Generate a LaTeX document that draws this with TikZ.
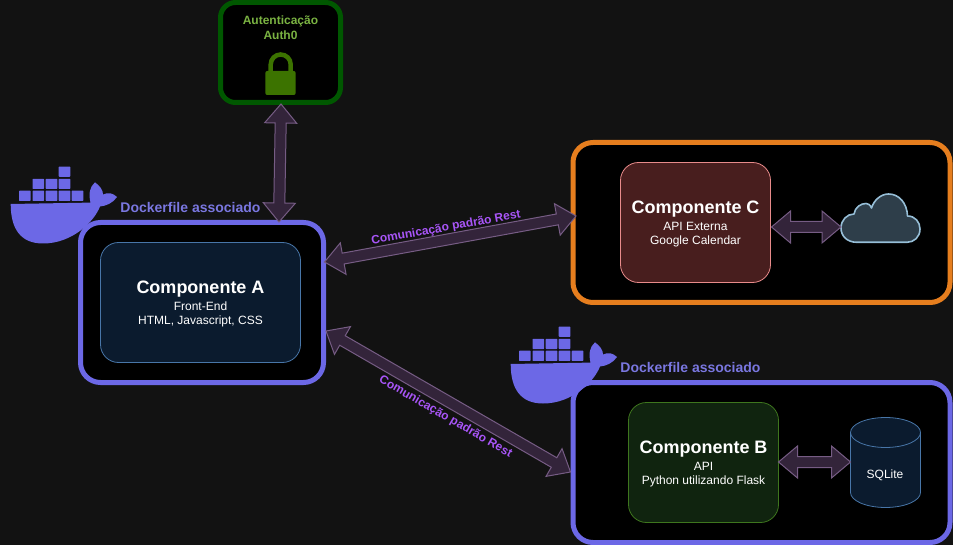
\documentclass[tikz,border=0pt]{standalone}
\usepackage{fontspec}
\setmainfont{Liberation Sans}
\usetikzlibrary{calc}
\definecolor{bgc}{RGB}{18,18,18}
\definecolor{dockc}{RGB}{108,104,230}
\definecolor{dockt}{RGB}{122,119,224}
\definecolor{orangec}{RGB}{230,126,30}
\definecolor{authc}{RGB}{0,87,0}
\definecolor{lockc}{RGB}{60,115,0}
\definecolor{autht}{RGB}{122,178,66}
\definecolor{blufill}{RGB}{11,27,46}
\definecolor{blustk}{RGB}{72,118,168}
\definecolor{redfill}{RGB}{72,30,30}
\definecolor{redstk}{RGB}{232,139,139}
\definecolor{grnfill}{RGB}{16,36,15}
\definecolor{grnstk}{RGB}{62,118,30}
\definecolor{arrfill}{RGB}{51,36,58}
\definecolor{arrstk}{RGB}{118,92,132}
\definecolor{restc}{RGB}{168,85,247}
\definecolor{cloudf}{RGB}{46,62,74}
\definecolor{clouds}{RGB}{150,190,215}
\tikzset{
  x=1pt,y=-1pt,
  outerbox/.style={draw,line width=5pt,fill=black,rounded corners=20pt,inner sep=0pt,outer sep=0pt},
  innerbox/.style={draw,line width=0.8pt,rounded corners=18pt,inner sep=0pt,outer sep=0pt,align=center,text=white,
    font=\fontsize{12}{14}\selectfont},
  bigarrow/.style={draw=arrstk,fill=arrfill,line width=1pt,line join=miter},
  restlabel/.style={text=restc,font=\fontsize{12}{14}\bfseries\selectfont,inner sep=0pt},
  docklabel/.style={text=dockt,font=\fontsize{14}{16}\bfseries\selectfont,inner sep=0pt},
}
\newcommand{\compt}[1]{\rule{0pt}{16pt}{\fontsize{18}{21}\bfseries\selectfont #1}}
\newcommand{\dblarrow}[2]{%
  \draw[bigarrow] (#1)
  -- ($(#1)!19pt!(#2)!16pt!90:(#2)$)
  -- ($(#1)!19pt!(#2)!5.5pt!90:(#2)$)
  -- ($(#2)!19pt!(#1)!5.5pt!-90:(#1)$)
  -- ($(#2)!19pt!(#1)!16pt!-90:(#1)$)
  -- (#2)
  -- ($(#2)!19pt!(#1)!16pt!90:(#1)$)
  -- ($(#2)!19pt!(#1)!5.5pt!90:(#1)$)
  -- ($(#1)!19pt!(#2)!5.5pt!-90:(#2)$)
  -- ($(#1)!19pt!(#2)!16pt!-90:(#2)$)
  -- cycle;}
\newcommand{\whale}[2]{%
  \begin{scope}[shift={(#1,#2)},fill=dockc]
    \foreach \xa/\ya in {19/190.7,32.5/190.7,45.7/190.7,58.7/190.7,71.7/190.7,32.5/178.8,45.7/178.8,58.7/178.8,58.7/166.6}
      \fill[rounded corners=0.6pt] (\xa,\ya) rectangle ++(11.6,10.2);
    \fill (10.7,204) -- (90.5,202.6)
      .. controls (88.5,194) and (89.5,187) .. (95,182.3)
      .. controls (100,186) and (103,190) .. (103,194.5)
      .. controls (108,192) and (113,193) .. (117,197)
      .. controls (113,203) and (106,206) .. (100,206.5)
      .. controls (94,222) and (72,243.5) .. (43,243.5)
      .. controls (20,243.5) and (10.7,228) .. (10.7,204) -- cycle;
  \end{scope}}
\begin{document}
\begin{tikzpicture}
\useasboundingbox (0,0) rectangle (953,545);
\fill[bgc] (0,0) rectangle (953,545);

% outer boxes
\node[outerbox,draw=authc,rounded corners=15pt,minimum width=120pt,minimum height=100pt] (auth) at (280.5,52.5) {};
\node[outerbox,draw=dockc,minimum width=243pt,minimum height=160pt] (a) at (202,302.5) {};
\node[outerbox,draw=orangec,minimum width=377pt,minimum height=160pt] (c) at (761.5,222.5) {};
\node[outerbox,draw=dockc,minimum width=377pt,minimum height=160pt] (b) at (761.5,462.5) {};

% inner boxes
\node[innerbox,draw=blustk,fill=blufill,minimum width=200pt,minimum height=120pt] (ai) at (200.5,302.5)
  {\compt{Componente A}\\[3pt]Front-End\\HTML, Javascript, CSS};
\node[innerbox,draw=redstk,fill=redfill,minimum width=150pt,minimum height=120pt] (ci) at (695.5,222.5)
  {\compt{Componente C}\\[3pt]API Externa\\Google Calendar};
\node[innerbox,draw=grnstk,fill=grnfill,minimum width=150pt,minimum height=120pt] (bi) at (703.5,462.5)
  {\compt{Componente B}\\[3pt]API\\Python utilizando Flask};

% auth text
\node[text=autht,align=center,inner sep=0pt,font=\fontsize{12}{15}\bfseries\selectfont] (authtxt) at (280.5,27.5) {Autenticação\\Auth0};

% lock
\draw[lockc,line width=4.5pt] (270.7,73) -- (270.7,64.5) arc[start angle=180,end angle=0,x radius=10,y radius=-10] -- (290.7,73);
\fill[lockc,rounded corners=2pt] (265.3,71) rectangle (295.7,95);

% whales
\whale{0}{0}
\whale{500}{160}
\node[docklabel] (dl1) at (190.5,207) {Dockerfile associado};
\node[docklabel] (dl2) at (690.5,367) {Dockerfile associado};

% cylinder
\draw[blustk,fill=blufill,line width=0.8pt] (850.5,432.5) -- (850.5,492.5)
  arc[start angle=180,end angle=360,x radius=35,y radius=-15] -- (920.5,432.5)
  arc[start angle=0,end angle=180,x radius=35,y radius=-15] -- cycle;
\draw[blustk,line width=0.8pt] (850.5,432.5) arc[start angle=180,end angle=360,x radius=35,y radius=-15];
\node[text=white,inner sep=0pt,font=\fontsize{12}{14}\selectfont] (db) at (885,475) {SQLite};

% cloud
\draw[clouds,fill=cloudf,line width=1.6pt,line join=round] (857,242.3)
  .. controls (847,242.3) and (841,236) .. (841,228)
  .. controls (841,220) and (847,214) .. (854,214)
  .. controls (855,207) and (861,203.5) .. (866,203.5)
  .. controls (868,203.5) and (870,204.5) .. (871.5,208)
  .. controls (874,200) and (881,194) .. (888.5,194)
  .. controls (899,194) and (907,203) .. (907.5,216)
  .. controls (915,216) and (920,222) .. (920,229)
  .. controls (920,237) and (914,242.3) .. (907,242.3) -- cycle;

% connector end points
\coordinate (p1) at (281,104);
\coordinate (p2) at (279,222);
\coordinate (p3) at (324.5,262);
\coordinate (p4) at (576,216);
\coordinate (p5) at (326,331);
\coordinate (p6) at (570.5,472);
\coordinate (p7) at (771.5,227);
\coordinate (p8) at (841,227);
\coordinate (p9) at (778.5,462);
\coordinate (p10) at (850.5,462);

\dblarrow{p1}{p2}
\dblarrow{p3}{p4}
\dblarrow{p5}{p6}
\dblarrow{p7}{p8}
\dblarrow{p9}{p10}

\node[restlabel,rotate=10.2] (r1) at (446,228) {Comunicação padrão Rest};
\node[restlabel,rotate=-30] (r2) at (445.5,417) {Comunicação padrão Rest};
\end{tikzpicture}
\end{document}
